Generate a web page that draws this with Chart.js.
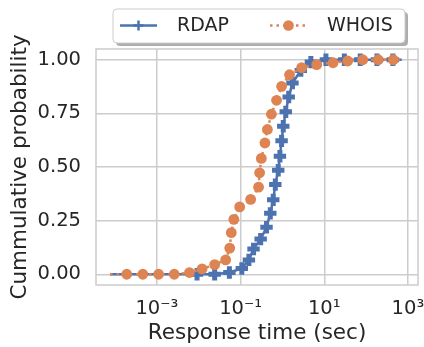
<!DOCTYPE html>
<html>
<head>
<meta charset="utf-8">
<script src="https://cdn.jsdelivr.net/npm/chart.js@4"></script>
<style>
  html, body { margin: 0; padding: 0; background: #fff; }
  canvas { display: block; }
</style>
</head>
<body>
<canvas id="cdf-chart" width="424" height="347"></canvas>
<script>
// --- data (first/last entries are only line ends, no marker) ---
const rdapTime = [7.6e-5, 0.0091, 0.024, 0.054, 0.107, 0.158, 0.204, 0.302, 0.417, 0.513, 0.603, 0.676, 0.794,
  0.871, 0.955, 1.047, 1.202, 1.413, 1.738, 2.754, 4.786, 10.96, 30.2, 72.4, 182, 437, 708];
const rdapProb = [0, 0, 0, 0.008, 0.027, 0.067, 0.118, 0.164, 0.219, 0.284, 0.347, 0.418, 0.485,
  0.55, 0.622, 0.69, 0.757, 0.826, 0.891, 0.95, 0.989, 1, 1, 1, 1, 1, 1];

const whoisTime = [7.6e-5, 1.9e-4, 4.6e-4, 1.1e-3, 2.6e-3, 6.0e-3, 0.012, 0.024, 0.044, 0.055, 0.060, 0.069, 0.095,
  0.174, 0.269, 0.285, 0.313, 0.382, 0.437, 0.545, 0.724, 0.955, 1.48, 2.88, 6.61, 16.2, 36.3, 83.2, 195, 447, 708];
const whoisProb = [0, 0, 0, 0, 0, 0.008, 0.025, 0.045, 0.067, 0.122, 0.194, 0.256, 0.314,
  0.349, 0.406, 0.473, 0.54, 0.612, 0.675, 0.746, 0.811, 0.876, 0.93, 0.963, 0.977, 0.986, 0.994, 1, 1, 1, 1];

const xTickValues = [1e-3, 1e-1, 1e1, 1e3];
const xTickLabels = ['10⁻³', '10⁻¹', '10¹', '10³'];
const yTickValues = [0, 0.25, 0.5, 0.75, 1];

// --- style ---
const blue = '#4c72b0';
const orange = '#dd8452';
const textColor = '#262626';
const gridColor = '#cccccc';
const family = 'DejaVu Sans';

function toPoints(xs, ys) {
  return xs.map((x, i) => ({ x, y: ys[i] }));
}

// markers only on the inner points
function markerRadius(r) {
  return ctx => (ctx.dataIndex === 0 || ctx.dataIndex === ctx.dataset.data.length - 1) ? 0 : r;
}

// frame round the plot area
const plotFrame = {
  id: 'plotFrame',
  beforeDatasetsDraw(chart) {
    const { ctx, chartArea: a } = chart;
    ctx.save();
    ctx.strokeStyle = gridColor;
    ctx.lineWidth = 1.5;
    ctx.strokeRect(a.left, a.top, a.right - a.left, a.bottom - a.top);
    ctx.restore();
  }
};

function roundRect(c, x, y, w, h, r) {
  c.beginPath();
  c.moveTo(x + r, y);
  c.arcTo(x + w, y, x + w, y + h, r);
  c.arcTo(x + w, y + h, x, y + h, r);
  c.arcTo(x, y + h, x, y, r);
  c.arcTo(x, y, x + w, y, r);
  c.closePath();
}

// legend box with shadow, line + marker samples
const legendBox = {
  id: 'legendBox',
  afterDraw(chart) {
    const c = chart.ctx;
    const bx = 113, by = 9, bw = 292, bh = 34;
    c.save();
    c.fillStyle = 'rgba(0,0,0,0.32)';
    roundRect(c, bx + 3, by + 3, bw, bh, 4);
    c.fill();
    c.fillStyle = '#fff';
    roundRect(c, bx, by, bw, bh, 4);
    c.fill();
    c.strokeStyle = '#cccccc';
    c.lineWidth = 1;
    c.stroke();

    const cy = 25.5;
    const starts = [120, 270];
    chart.data.datasets.forEach((ds, i) => {
      const x0 = starts[i];
      c.strokeStyle = ds.borderColor;
      c.lineWidth = ds.borderWidth;
      c.setLineDash(ds.borderDash || []);
      c.beginPath();
      c.moveTo(x0, cy);
      c.lineTo(x0 + 37, cy);
      c.stroke();
      c.setLineDash([]);
      c.fillStyle = ds.pointBackgroundColor;
      c.strokeStyle = ds.pointBorderColor;
      Chart.helpers.drawPoint(c, {
        pointStyle: ds.pointStyle, radius: ds.legendRadius, borderWidth: ds.pointBorderWidth, rotation: 0
      }, x0 + 18.5, cy);
      c.fillStyle = textColor;
      c.font = '19px "' + family + '"';
      c.textBaseline = 'middle';
      c.textAlign = 'left';
      c.fillText(ds.label, x0 + 57, cy + 1);
    });
    c.restore();
  }
};

new Chart(document.getElementById('cdf-chart'), {
  type: 'line',
  data: {
    datasets: [
      {
        label: 'RDAP',
        data: toPoints(rdapTime, rdapProb),
        borderColor: blue,
        backgroundColor: blue,
        borderWidth: 2.5,
        pointStyle: 'cross',
        pointRadius: markerRadius(6.2),
        legendRadius: 5,
        pointBorderWidth: 5,
        pointBorderColor: blue,
        pointBackgroundColor: blue,
        order: 1
      },
      {
        label: 'WHOIS',
        data: toPoints(whoisTime, whoisProb),
        borderColor: orange,
        backgroundColor: orange,
        borderWidth: 2.5,
        borderDash: [2.5, 4],
        pointStyle: 'circle',
        pointRadius: markerRadius(5.4),
        legendRadius: 5.3,
        pointBorderWidth: 0,
        pointBorderColor: orange,
        pointBackgroundColor: orange,
        order: 0
      }
    ]
  },
  options: {
    responsive: false,
    animation: false,
    events: [],
    layout: { padding: { top: 49, right: 6, left: 0, bottom: 0 } },
    plugins: {
      legend: { display: false },
      tooltip: { enabled: false }
    },
    scales: {
      x: {
        type: 'logarithmic',
        bounds: 'data',
        min: 3.5e-5,
        max: 1740,
        afterBuildTicks: s => { s.ticks = xTickValues.map(v => ({ value: v })); },
        ticks: {
          callback: v => xTickLabels[xTickValues.indexOf(v)],
          font: { family, size: 19.5 },
          color: textColor,
          padding: 12,
          maxRotation: 0,
          autoSkip: false
        },
        grid: { color: gridColor, lineWidth: 1.5, drawTicks: false },
        border: { display: false },
        title: {
          display: true,
          text: 'Response time (sec)',
          font: { family, size: 21.5 },
          color: textColor,
          padding: { top: 0, bottom: 1 }
        },
        afterFit: s => { s.height = 62; s.paddingLeft = 0; s.paddingRight = 0; }
      },
      y: {
        min: -0.05,
        max: 1.05,
        afterBuildTicks: s => { s.ticks = yTickValues.map(v => ({ value: v })); },
        ticks: {
          callback: v => v.toFixed(2),
          font: { family, size: 19.5 },
          color: textColor,
          padding: 15
        },
        grid: { color: gridColor, lineWidth: 1.5, drawTicks: false },
        border: { display: false },
        title: {
          display: true,
          text: 'Cummulative probability',
          font: { family, size: 21.5 },
          color: textColor,
          padding: { top: 8, bottom: 0 }
        },
        afterFit: s => { s.width = 96; s.paddingTop = 0; s.paddingBottom = 0; }
      }
    }
  },
  plugins: [plotFrame, legendBox]
});
</script>
</body>
</html>
